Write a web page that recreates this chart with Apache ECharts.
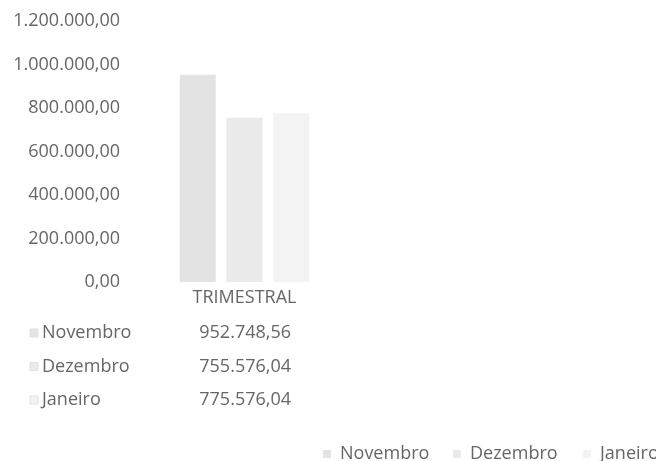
<!DOCTYPE html>
<html>
<head>
<meta charset="utf-8">
<script src="https://cdn.jsdelivr.net/npm/echarts@6/dist/echarts.min.js"></script>
<style>
  body { margin: 0; background: #fff; }
  #chart { width: 656px; height: 461px; }
</style>
</head>
<body>
<div id="chart"></div>
<script>
const categories = ["TRIMESTRAL"];
const months = ["Novembro", "Dezembro", "Janeiro"];
const values = [952748.56, 755576.04, 775576.04];
const colors = ["#e3e3e3", "#eaeaea", "#f3f3f3"];

function fmt(v) {
  const parts = v.toFixed(2).split(".");
  parts[0] = parts[0].replace(/\B(?=(\d{3})+(?!\d))/g, ".");
  return parts[0] + "," + parts[1];
}

const font = "Open Sans";
const textColor = "#666666";

const chart = echarts.init(document.getElementById("chart"));

// tabela de dados abaixo do eixo
const table = [];
months.forEach((m, i) => {
  const y = 333 + i * 33.5;
  table.push({
    type: "rect",
    shape: { x: 30, y: y - 4, width: 8, height: 8 },
    style: { fill: colors[i], stroke: "#e2e2e2" }
  });
  table.push({
    type: "text",
    x: 42, y: y,
    style: { text: m, font: "18px " + font, fill: textColor, verticalAlign: "middle" }
  });
  table.push({
    type: "text",
    x: 291, y: y,
    style: { text: fmt(values[i]), font: "18px " + font, fill: textColor, align: "right", verticalAlign: "middle" }
  });
});

chart.setOption({
  animation: false,
  grid: { left: 129, right: 296, top: 21, bottom: 179 },
  xAxis: {
    type: "category",
    data: categories,
    axisLine: { show: false },
    axisTick: { show: false },
    axisLabel: { color: textColor, fontFamily: font, fontSize: 18, margin: 7 }
  },
  yAxis: {
    type: "value",
    min: 0,
    max: 1200000,
    interval: 200000,
    splitLine: { show: false },
    axisLabel: { color: textColor, fontFamily: font, fontSize: 18, margin: 9, formatter: fmt }
  },
  legend: months.map((m, i) => ({
    data: [m],
    left: 318 + i * 130,
    top: 440,
    itemWidth: 8,
    itemHeight: 8,
    icon: "rect",
    itemGap: 0,
    textStyle: { color: textColor, fontFamily: font, fontSize: 18, padding: [0, 0, 0, 4] }
  })),
  series: months.map((m, i) => ({
    name: m,
    type: "bar",
    data: [values[i]],
    barWidth: 36,
    barGap: "30%",
    itemStyle: { color: colors[i] }
  })),
  graphic: table
});
</script>
</body>
</html>
